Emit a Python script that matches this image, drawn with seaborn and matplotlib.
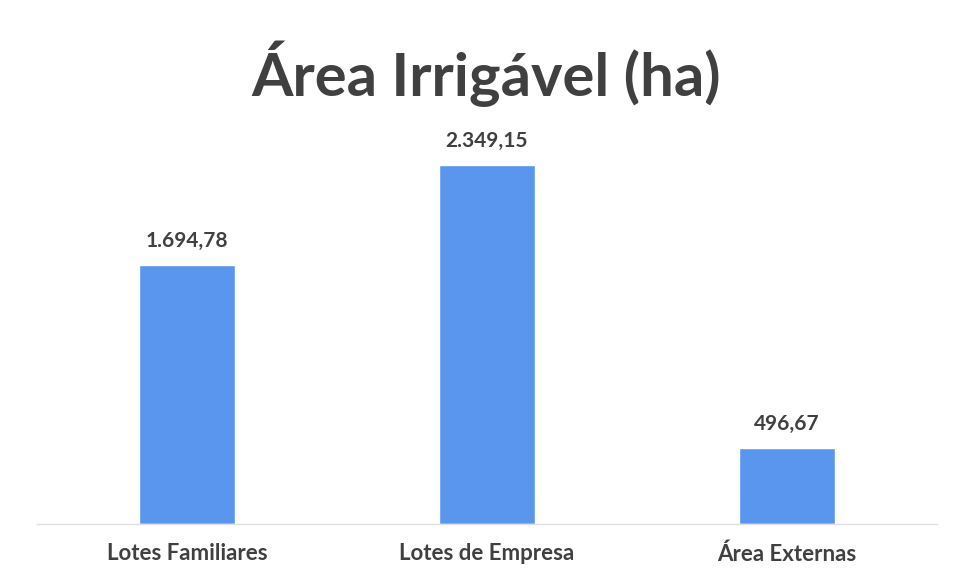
import pandas as pd
import matplotlib
matplotlib.use("Agg")
import matplotlib.pyplot as plt
import seaborn as sns

# dados
categorias = ["Lotes Familiares", "Lotes de Empresa", "Área Externas"]
area_ha = [1694.78, 2349.15, 496.67]
rotulos = ["1.694,78", "2.349,15", "496,67"]

df = pd.DataFrame({"categoria": categorias, "area": area_ha})

sns.set_style("white")
plt.rcParams["font.family"] = ["Lato", "DejaVu Sans"]

cor_barra = "#5B96EE"
cor_texto = "#404040"

fig = plt.figure(figsize=(9.59, 5.82), dpi=100)
ax = fig.add_axes([37 / 959, (582 - 524) / 582, 900 / 959, (524 - 127) / 582])

sns.barplot(data=df, x="categoria", y="area", color=cor_barra, width=0.32,
            saturation=1, ax=ax)

ax.set_ylim(0, 2600)
ax.set_xlim(-0.5, 2.5)

for i, (v, txt) in enumerate(zip(area_ha, rotulos)):
    ax.text(i, v + 95, txt, ha="center", va="bottom", fontsize=15,
            fontweight="bold", color=cor_texto)

ax.set_xlabel("")
ax.set_ylabel("")
ax.set_yticks([])
ax.tick_params(axis="x", length=0, pad=14)
for lbl in ax.get_xticklabels():
    lbl.set_fontsize(16)
    lbl.set_fontweight("bold")
    lbl.set_color(cor_texto)

for s in ["top", "left", "right"]:
    ax.spines[s].set_visible(False)
ax.spines["bottom"].set_color("#E0E0E0")
ax.spines["bottom"].set_linewidth(1)

fig.text(486 / 959, 1 - 74 / 582, "Área Irrigável (ha)", ha="center", va="center",
         fontsize=43, fontweight="bold", color=cor_texto)

fig.savefig("out.png", dpi=100, facecolor="white")
